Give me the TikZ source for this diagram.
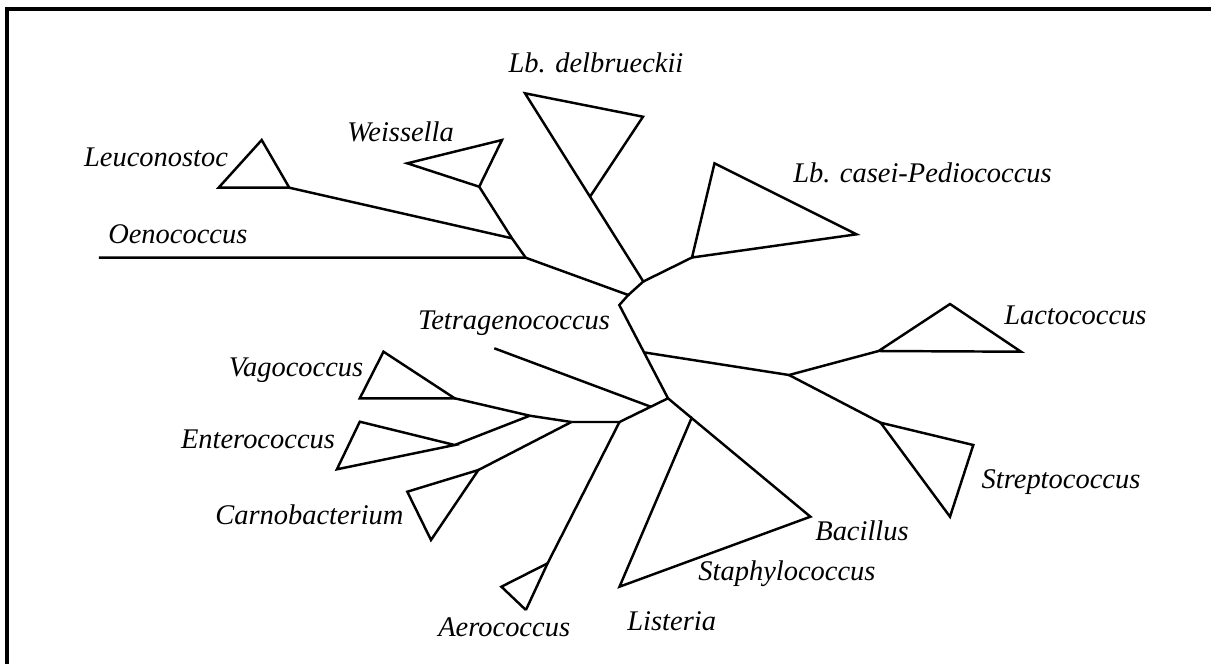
\documentclass[tikz,border=0pt]{standalone}
\usepackage{fontspec}
\setmainfont{Liberation Serif}
\begin{document}
\begin{tikzpicture}[x=0.02cm,y=-0.02cm,line width=1.4pt,
    taxon/.style={font=\itshape\fontsize{16.2}{19}\selectfont,inner sep=0pt,anchor=base}]
    \useasboundingbox (0,0) rectangle (1211,664);
    % frame
    \draw[line width=1.8pt] (7,664) -- (7,9) -- (1211,9);

    % junctions and tips
    \coordinate (leuTop) at (261.7,140);
    \coordinate (leuL) at (218.6,187.7);
    \coordinate (leuR) at (289.3,187.7);
    \coordinate (weiL) at (407.3,163.3);
    \coordinate (weiR) at (502,140);
    \coordinate (weiB) at (479.2,186.7);
    \coordinate (leuJ) at (512,238.3);
    \coordinate (oenJ) at (525.7,257.7);
    \coordinate (oenEnd) at (98.9,257.7);
    \coordinate (topJ) at (628.3,295);
    \coordinate (spine) at (619.3,305);
    \coordinate (delJ) at (643.3,281.5);
    \coordinate (delA) at (525,93.3);
    \coordinate (delB) at (643,116.7);
    \coordinate (delC) at (590,196.7);
    \coordinate (casJ) at (692,257.5);
    \coordinate (casA) at (714.5,163.3);
    \coordinate (casB) at (856.5,234.3);
    \coordinate (lacFork) at (644.8,352.5);
    \coordinate (lacJ) at (789,375);
    \coordinate (lacA) at (878.6,351);
    \coordinate (lacTop) at (950,304);
    \coordinate (lacR) at (1021,351.7);
    \coordinate (strA) at (880.6,422.7);
    \coordinate (strB) at (973.3,445);
    \coordinate (strC) at (950,516.7);
    \coordinate (midJ) at (668,398.3);
    \coordinate (bacA) at (691.6,418);
    \coordinate (bacB) at (810.4,516.7);
    \coordinate (bacC) at (619.5,586.7);
    \coordinate (lowJ) at (619.5,422);
    \coordinate (tetFork) at (650.7,406.7);
    \coordinate (tetEnd) at (494.3,348.3);
    \coordinate (leftJ) at (571.4,422);
    \coordinate (entJ) at (529.8,415.7);
    \coordinate (vagR) at (454.7,398.3);
    \coordinate (vagTop) at (383.5,351.7);
    \coordinate (vagL) at (359.8,398.3);
    \coordinate (entR) at (454.7,445);
    \coordinate (entA) at (359.8,421.7);
    \coordinate (entB) at (336.9,469.3);
    \coordinate (carA) at (478.4,470);
    \coordinate (carB) at (407.3,491.7);
    \coordinate (carC) at (431,540);
    \coordinate (aerA) at (547.6,563.3);
    \coordinate (aerB) at (501.4,586.7);
    \coordinate (aerC) at (525.9,610);

    % branches
    \draw (oenEnd) -- (oenJ) -- (topJ) -- (spine) -- (midJ) -- (lowJ) -- (leftJ);
    \draw (leuTop) -- (leuL) -- (leuR) -- cycle;
    \draw (leuR) -- (leuJ);
    \draw (weiL) -- (weiR) -- (weiB) -- cycle;
    \draw (weiB) -- (leuJ) -- (oenJ);
    \draw (topJ) -- (delJ) -- (delA) -- (delB) -- (delC);
    \draw (delJ) -- (casJ);
    \draw (casJ) -- (casA) -- (casB) -- cycle;
    \draw (lacFork) -- (lacJ) -- (lacA);
    \draw (lacA) -- (lacTop) -- (lacR) -- cycle;
    \draw (lacJ) -- (strA);
    \draw (strA) -- (strB) -- (strC) -- cycle;
    \draw (midJ) -- (bacA);
    \draw (bacA) -- (bacB) -- (bacC) -- cycle;
    \draw (tetEnd) -- (tetFork);
    \draw (leftJ) -- (entJ) -- (vagR);
    \draw (vagR) -- (vagTop) -- (vagL) -- cycle;
    \draw (entJ) -- (entR);
    \draw (entR) -- (entA) -- (entB) -- cycle;
    \draw (leftJ) -- (carA);
    \draw (carA) -- (carB) -- (carC) -- cycle;
    \draw (lowJ) -- (aerA) -- (aerC);
    \draw (aerA) -- (aerB) -- (aerC);

    % labels
    \node[taxon] (leu) at (156,166) {Leuconostoc};
    \node[taxon] (wei) at (400.5,141.5) {Weissella};
    \node[taxon] (oen) at (177.8,243) {Oenococcus};
    \node[taxon] (del) at (596,72.5) {Lb. delbrueckii};
    \node[taxon] (tet) at (514,329.5) {Tetragenococcus};
    \node[taxon] (cas) at (922.5,182.5) {Lb. casei-Pediococcus};
    \node[taxon] (lac) at (1075.4,324) {Lactococcus};
    \node[taxon] (str) at (1061,488) {Streptococcus};
    \node[taxon] (bac) at (862,540.7) {Bacillus};
    \node[taxon] (sta) at (787,580) {Staphylococcus};
    \node[taxon] (lis) at (671.7,630) {Listeria};
    \node[taxon] (vag) at (296,376.5) {Vagococcus};
    \node[taxon] (ent) at (258,448) {Enterococcus};
    \node[taxon] (car) at (309.4,524) {Carnobacterium};
    \node[taxon] (aer) at (504.2,636.5) {Aerococcus};
\end{tikzpicture}
\end{document}
